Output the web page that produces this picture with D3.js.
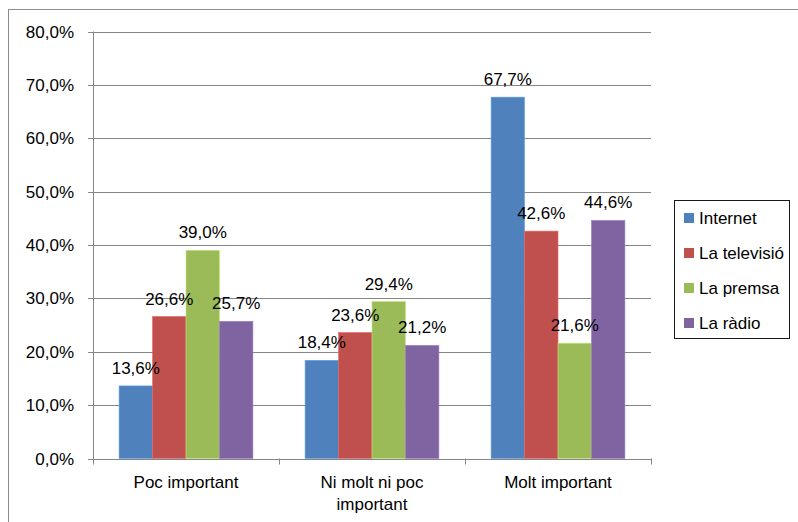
<!DOCTYPE html>
<html>
<head>
<meta charset="utf-8">
<script src="https://cdn.jsdelivr.net/npm/d3@7"></script>
<style>
  html, body { margin: 0; padding: 0; background: #fff; }
  svg { display: block; }
  text { font-family: "Liberation Sans", Arial, sans-serif; fill: #000; }
</style>
</head>
<body>
<svg id="chart" width="798" height="522"></svg>
<script>
// Importance given to each media source
const categories = ["Poc important", "Ni molt ni poc important", "Molt important"];
const categoryLines = [["Poc important"], ["Ni molt ni poc", "important"], ["Molt important"]];
const seriesNames = ["Internet", "La televisió", "La premsa", "La ràdio"];
const seriesColors = ["#4F81BD", "#C0504D", "#9BBB59", "#8064A2"];
const internet = [13.6, 18.4, 67.7];
const televisio = [26.6, 23.6, 42.6];
const premsa = [39.0, 29.4, 21.6];
const radio = [25.7, 21.2, 44.6];
const yTicks = [0, 10, 20, 30, 40, 50, 60, 70, 80];

const seriesValues = [internet, televisio, premsa, radio];
const fmt = v => d3.format(".1f")(v).replace(".", ",") + "%";

const svg = d3.select("#chart");
const fontSize = 17;

// Outer chart frame
svg.append("rect")
  .attr("x", 8.5).attr("y", 9.5)
  .attr("width", 900).attr("height", 600)
  .attr("fill", "none").attr("stroke", "#8c8c8c").attr("stroke-width", 1);

const plot = { left: 93, right: 651, top: 31.5, bottom: 458.5 };

const x0 = d3.scaleBand().domain(categories).range([plot.left, plot.right]).paddingInner(0).paddingOuter(0);
const x1 = d3.scaleBand().domain(seriesNames).range([0, x0.bandwidth()]).paddingInner(0).paddingOuter(0.78);
const y = d3.scaleLinear().domain([0, 80]).range([plot.bottom, plot.top]);

// Gridlines
svg.append("g").selectAll("line").data(yTicks).join("line")
  .attr("x1", plot.left - 5).attr("x2", plot.right)
  .attr("y1", d => Math.round(y(d)) + 0.5).attr("y2", d => Math.round(y(d)) + 0.5)
  .attr("stroke", "#868686").attr("stroke-width", 1);

// Y tick labels
svg.append("g").selectAll("text").data(yTicks).join("text")
  .attr("x", 74).attr("y", d => y(d))
  .attr("dy", "0.36em")
  .attr("text-anchor", "end")
  .style("font-size", fontSize + "px")
  .text(d => d3.format(".1f")(d).replace(".", ",") + "%");

// Bars
const groups = svg.append("g").selectAll("g").data(categories).join("g")
  .attr("transform", d => `translate(${x0(d)},0)`);

groups.selectAll("rect")
  .data((c, i) => seriesNames.map((s, j) => ({ s, j, v: seriesValues[j][i] })))
  .join("rect")
  .attr("x", d => x1(d.s))
  .attr("y", d => y(d.v))
  .attr("width", x1.bandwidth())
  .attr("height", d => y(0) - y(d.v))
  .attr("fill", d => seriesColors[d.j])
  .attr("stroke", d => d3.color(seriesColors[d.j]).brighter(0.6))
  .attr("stroke-width", 0.6);

// Data labels
groups.selectAll("text")
  .data((c, i) => seriesNames.map((s, j) => ({ s, j, v: seriesValues[j][i] })))
  .join("text")
  .attr("x", d => x1(d.s) + x1.bandwidth() / 2)
  .attr("y", d => y(d.v) - 12)
  .attr("text-anchor", "middle")
  .style("font-size", fontSize + "px")
  .text(d => fmt(d.v));

// Axes lines
svg.append("line")
  .attr("x1", plot.left + 0.5).attr("x2", plot.left + 0.5)
  .attr("y1", plot.top).attr("y2", plot.bottom + 5)
  .attr("stroke", "#868686");
svg.append("line")
  .attr("x1", plot.left).attr("x2", plot.right)
  .attr("y1", Math.round(plot.bottom) + 0.5).attr("y2", Math.round(plot.bottom) + 0.5)
  .attr("stroke", "#868686");

// Category ticks
const catEdges = categories.map(c => x0(c)).concat([plot.right]);
svg.append("g").selectAll("line").data(catEdges).join("line")
  .attr("x1", d => Math.round(d) + 0.5).attr("x2", d => Math.round(d) + 0.5)
  .attr("y1", plot.bottom).attr("y2", plot.bottom + 6)
  .attr("stroke", "#868686");

// Category labels
const catLabels = svg.append("g").selectAll("text").data(categories).join("text")
  .attr("x", d => x0(d) + x0.bandwidth() / 2)
  .attr("y", 488)
  .attr("text-anchor", "middle")
  .style("font-size", fontSize + "px");
catLabels.selectAll("tspan")
  .data((d, i) => categoryLines[i])
  .join("tspan")
  .attr("x", function () { return this.parentNode.getAttribute("x"); })
  .attr("dy", (d, i) => i === 0 ? 0 : 22)
  .text(d => d);

// Legend
const legend = svg.append("g");
legend.append("rect")
  .attr("x", 674.5).attr("y", 200.5).attr("width", 115).attr("height", 138)
  .attr("fill", "#fff").attr("stroke", "#1a1a1a").attr("stroke-width", 1);
const items = legend.selectAll("g").data(seriesNames).join("g")
  .attr("transform", (d, i) => `translate(684,${218 + i * 35})`);
items.append("rect")
  .attr("x", 0).attr("y", -5).attr("width", 10).attr("height", 10)
  .attr("fill", (d, i) => seriesColors[i]);
items.append("text")
  .attr("x", 15).attr("y", 0).attr("dy", "0.36em")
  .style("font-size", fontSize + "px")
  .text(d => d);
</script>
</body>
</html>
